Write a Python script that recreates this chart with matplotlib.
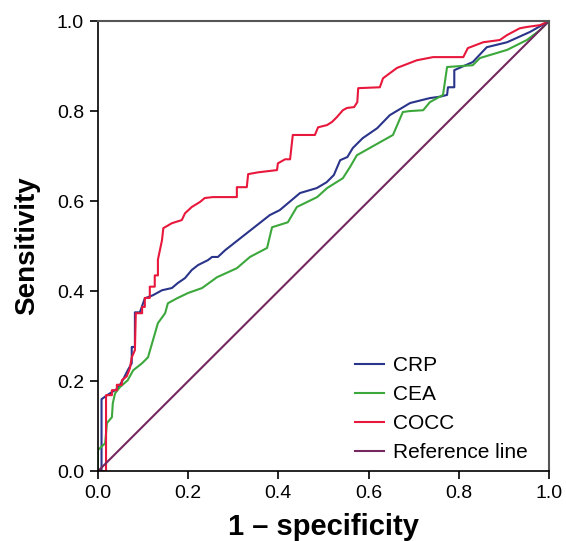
import matplotlib
matplotlib.use('Agg')
from matplotlib import pyplot as plt

plt.rcParams['font.family'] = ['Liberation Sans', 'DejaVu Sans']

# COCC (red)
cocc_x = [0.0, 0.018, 0.018, 0.031, 0.031, 0.042, 0.042, 0.053, 0.053, 0.064, 0.071, 0.075,
          0.082, 0.084, 0.098, 0.098, 0.104, 0.104, 0.115, 0.115, 0.126, 0.126, 0.133, 0.133,
          0.142, 0.145, 0.164, 0.186, 0.193, 0.208, 0.226, 0.237, 0.255,
          0.308, 0.308, 0.330, 0.333, 0.355, 0.397, 0.399, 0.415, 0.426, 0.432, 0.481, 0.488,
          0.508, 0.519, 0.530, 0.543, 0.552, 0.568, 0.575, 0.577, 0.625, 0.632, 0.663, 0.707,
          0.743, 0.810, 0.820, 0.854, 0.891, 0.907, 0.935, 0.951, 0.980, 1.0]
cocc_y = [0.0, 0.0, 0.169, 0.169, 0.180, 0.180, 0.192, 0.192, 0.202, 0.211, 0.229, 0.253,
          0.269, 0.351, 0.351, 0.365, 0.365, 0.385, 0.385, 0.410, 0.410, 0.435, 0.435, 0.470,
          0.513, 0.540, 0.551, 0.558, 0.573, 0.587, 0.598, 0.607, 0.609,
          0.609, 0.631, 0.631, 0.660, 0.664, 0.669, 0.684, 0.693, 0.693, 0.747, 0.747, 0.764,
          0.769, 0.776, 0.787, 0.802, 0.807, 0.809, 0.820, 0.851, 0.853, 0.873, 0.896, 0.913,
          0.920, 0.920, 0.940, 0.953, 0.958, 0.969, 0.984, 0.987, 0.991, 1.0]

# CRP (navy)
crp_x = [0.0, 0.008, 0.008, 0.022, 0.044, 0.055, 0.066, 0.075, 0.075, 0.082, 0.082, 0.093, 0.104,
         0.122, 0.142, 0.164, 0.177, 0.193, 0.208, 0.222, 0.244, 0.253, 0.266, 0.282, 0.381,
         0.403, 0.448, 0.485, 0.507, 0.523, 0.537, 0.553, 0.565, 0.587, 0.619, 0.647, 0.692,
         0.736, 0.758, 0.774, 0.776, 0.790, 0.790, 0.831, 0.862, 0.907, 0.958, 1.0]
crp_y = [0.0, 0.0, 0.160, 0.170, 0.184, 0.202, 0.224, 0.240, 0.276, 0.276, 0.353, 0.353, 0.384,
         0.391, 0.402, 0.407, 0.418, 0.429, 0.447, 0.458, 0.469, 0.476, 0.476, 0.491, 0.569,
         0.580, 0.618, 0.629, 0.642, 0.658, 0.691, 0.698, 0.718, 0.740, 0.762, 0.791, 0.818,
         0.829, 0.832, 0.836, 0.853, 0.853, 0.891, 0.909, 0.942, 0.953, 0.976, 1.0]

# CEA (green)
cea_x = [0.0, 0.0, 0.016, 0.020, 0.031, 0.033, 0.038, 0.049, 0.066, 0.078, 0.098, 0.111, 0.122,
         0.133, 0.149, 0.155, 0.175, 0.200, 0.231, 0.264, 0.308, 0.337, 0.375, 0.386, 0.421,
         0.441, 0.486, 0.508, 0.543, 0.559, 0.574, 0.654, 0.676, 0.690, 0.721, 0.736, 0.765,
         0.774, 0.831, 0.847, 0.907, 0.951, 0.980, 1.0]
cea_y = [0.0, 0.047, 0.062, 0.107, 0.120, 0.151, 0.173, 0.187, 0.202, 0.224, 0.240, 0.253, 0.291,
         0.329, 0.351, 0.373, 0.384, 0.396, 0.407, 0.431, 0.451, 0.476, 0.496, 0.542, 0.553,
         0.587, 0.609, 0.629, 0.651, 0.676, 0.702, 0.747, 0.798, 0.800, 0.802, 0.820, 0.836,
         0.898, 0.902, 0.918, 0.936, 0.958, 0.980, 1.0]

ref_x = [0.0, 1.0]
ref_y = [0.0, 1.0]

labels = ['CRP', 'CEA', 'COCC', 'Reference line']
colors = ['#2a348a', '#3ca83c', '#e8183c', '#74285e']

fig = plt.figure(figsize=(5.66, 5.41), dpi=100)
ax = fig.add_axes([0.173, 0.129, 0.797, 0.832])

ax.plot(crp_x, crp_y, color=colors[0], lw=1.5, label=labels[0])
ax.plot(cea_x, cea_y, color=colors[1], lw=1.5, label=labels[1])
ax.plot(cocc_x, cocc_y, color=colors[2], lw=1.5, label=labels[2])
ax.plot(ref_x, ref_y, color=colors[3], lw=1.5, label=labels[3])

ax.set_xlim(0, 1)
ax.set_ylim(0, 1)
ticks = [0.0, 0.2, 0.4, 0.6, 0.8, 1.0]
ax.set_xticks(ticks, ['%.1f' % t for t in ticks])
ax.set_yticks(ticks, ['%.1f' % t for t in ticks])
ax.tick_params(direction='out', length=6, width=1.2, labelsize=14, colors='black', pad=4)
for s in ['left', 'bottom']:
    ax.spines[s].set_linewidth(1.2)
    ax.spines[s].set_color('black')
for s in ['top', 'right']:
    ax.spines[s].set_linewidth(1.5)
    ax.spines[s].set_color('#555555')

ax.set_xlabel('1 – specificity', fontsize=21, fontweight='bold', labelpad=8)
ax.set_ylabel('Sensitivity', fontsize=20, fontweight='bold', labelpad=12)

ax.legend(loc='lower right', frameon=False, fontsize=15, handlelength=1.35,
          handletextpad=0.45, labelspacing=0.48, borderaxespad=0.3,
          bbox_to_anchor=(0.985, -0.012))

fig.savefig('out.png', dpi=100)
